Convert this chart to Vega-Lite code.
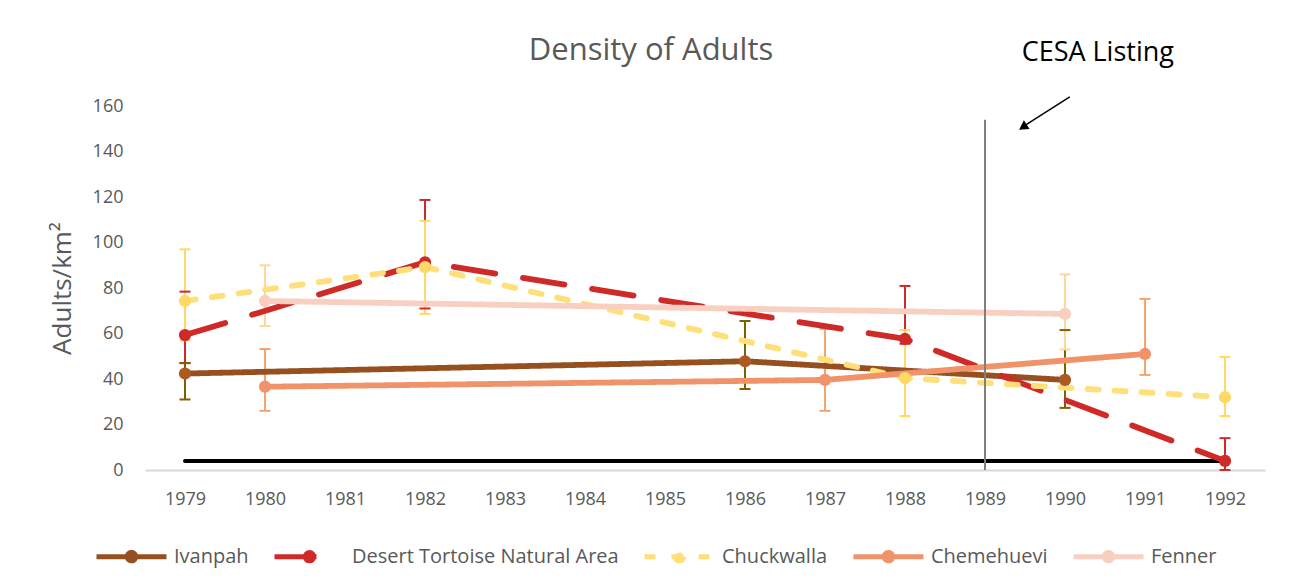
{
  "$schema": "https://vega.github.io/schema/vega-lite/v6.json",
  "width": 1120,
  "height": 364,
  "autosize": {"type": "none"},
  "padding": {"left": 145, "top": 106, "right": 27, "bottom": 118},
  "background": "white",
  "config": {
    "font": "Open Sans",
    "view": {"stroke": null},
    "axis": {"grid": false, "ticks": false, "labelColor": "#595959", "labelFontSize": 18, "titleColor": "#595959", "titleFontWeight": "normal"}
  },
  "title": {"text": "Density of Adults", "fontSize": 31, "fontWeight": "normal", "color": "#595959", "anchor": "middle", "frame": "group", "dx": -54, "offset": -28},
  "datasets": {
    "series": [
      {"site": "Ivanpah", "year": 1979, "value": 42.4, "lo": 31.0, "hi": 47.0},
      {"site": "Ivanpah", "year": 1986, "value": 47.8, "lo": 35.6, "hi": 65.5},
      {"site": "Ivanpah", "year": 1990, "value": 39.6, "lo": 27.3, "hi": 61.5},
      {"site": "Desert Tortoise Natural Area", "year": 1979, "value": 59.3, "lo": 47.0, "hi": 78.4},
      {"site": "Desert Tortoise Natural Area", "year": 1982, "value": 91.3, "lo": 71.0, "hi": 118.7},
      {"site": "Desert Tortoise Natural Area", "year": 1988, "value": 57.6, "lo": 55.5, "hi": 80.9},
      {"site": "Desert Tortoise Natural Area", "year": 1992, "value": 4.0, "lo": 0.0, "hi": 14.0},
      {"site": "Chuckwalla", "year": 1979, "value": 74.3, "lo": 57.0, "hi": 97.0},
      {"site": "Chuckwalla", "year": 1982, "value": 89.2, "lo": 68.6, "hi": 109.5},
      {"site": "Chuckwalla", "year": 1988, "value": 40.4, "lo": 23.7, "hi": 61.5},
      {"site": "Chuckwalla", "year": 1992, "value": 32.0, "lo": 23.7, "hi": 49.7},
      {"site": "Chemehuevi", "year": 1980, "value": 36.6, "lo": 26.0, "hi": 53.2},
      {"site": "Chemehuevi", "year": 1987, "value": 39.6, "lo": 26.0, "hi": 62.0},
      {"site": "Chemehuevi", "year": 1991, "value": 51.0, "lo": 41.8, "hi": 75.2},
      {"site": "Fenner", "year": 1980, "value": 74.3, "lo": 63.3, "hi": 90.0},
      {"site": "Fenner", "year": 1990, "value": 68.6, "lo": 53.0, "hi": 86.0}
    ],
    "baseline": [
      {"year": 1979, "value": 4},
      {"year": 1992, "value": 4}
    ],
    "notes": [
      {"label": "CESA Listing", "year": 1989}
    ]
  },
  "layer": [
    {
      "data": {"name": "baseline"},
      "mark": {"type": "line", "color": "black", "strokeWidth": 4, "strokeCap": "round"},
      "encoding": {
        "x": {"field": "year", "type": "quantitative", "scale": {"domain": [1978.5, 1992.5], "nice": false, "zero": false},
              "axis": {"orient": "bottom", "title": null, "values": [1979, 1980, 1981, 1982, 1983, 1984, 1985, 1986, 1987, 1988, 1989, 1990, 1991, 1992], "format": "d", "domainColor": "#d9d9d9", "domainWidth": 2, "labelPadding": 20}},
        "y": {"field": "value", "type": "quantitative", "scale": {"domain": [0, 160], "nice": false},
              "axis": {"orient": "left", "title": "Adults/km²", "titleFontSize": 26, "titlePadding": 17, "values": [0, 20, 40, 60, 80, 100, 120, 140, 160], "domain": false, "labelPadding": 22}}
      }
    },
    {
      "data": {"name": "series"},
      "mark": {"type": "rule", "strokeWidth": 2},
      "encoding": {
        "x": {"field": "year", "type": "quantitative", "axis": {"orient": "bottom", "title": null, "values": [1979, 1980, 1981, 1982, 1983, 1984, 1985, 1986, 1987, 1988, 1989, 1990, 1991, 1992], "format": "d", "domainColor": "#d9d9d9", "domainWidth": 2, "labelPadding": 20}},
        "y": {"field": "lo", "type": "quantitative", "axis": {"orient": "left", "title": "Adults/km²", "titleFontSize": 26, "titlePadding": 17, "values": [0, 20, 40, 60, 80, 100, 120, 140, 160], "domain": false, "labelPadding": 22}},
        "y2": {"field": "hi"},
        "stroke": {"field": "site", "type": "nominal", "legend": null,
                  "scale": {"domain": ["Fenner", "Chemehuevi", "Chuckwalla", "Desert Tortoise Natural Area", "Ivanpah"], "range": ["#ffd79b", "#f4a46c", "#ffd966", "#cc2b2b", "#7f6000"]}}
      }
    },
    {
      "data": {"name": "series"},
      "mark": {"type": "rule", "strokeWidth": 2, "xOffset": -5.5, "x2Offset": 5.5},
      "encoding": {
        "x": {"field": "year", "type": "quantitative", "axis": {"orient": "bottom", "title": null, "values": [1979, 1980, 1981, 1982, 1983, 1984, 1985, 1986, 1987, 1988, 1989, 1990, 1991, 1992], "format": "d", "domainColor": "#d9d9d9", "domainWidth": 2, "labelPadding": 20}},
        "x2": {"field": "year"},
        "y": {"field": "lo", "type": "quantitative", "axis": {"orient": "left", "title": "Adults/km²", "titleFontSize": 26, "titlePadding": 17, "values": [0, 20, 40, 60, 80, 100, 120, 140, 160], "domain": false, "labelPadding": 22}},
        "stroke": {"field": "site", "type": "nominal", "legend": null}
      }
    },
    {
      "data": {"name": "series"},
      "mark": {"type": "rule", "strokeWidth": 2, "xOffset": -5.5, "x2Offset": 5.5},
      "encoding": {
        "x": {"field": "year", "type": "quantitative", "axis": {"orient": "bottom", "title": null, "values": [1979, 1980, 1981, 1982, 1983, 1984, 1985, 1986, 1987, 1988, 1989, 1990, 1991, 1992], "format": "d", "domainColor": "#d9d9d9", "domainWidth": 2, "labelPadding": 20}},
        "x2": {"field": "year"},
        "y": {"field": "hi", "type": "quantitative", "axis": {"orient": "left", "title": "Adults/km²", "titleFontSize": 26, "titlePadding": 17, "values": [0, 20, 40, 60, 80, 100, 120, 140, 160], "domain": false, "labelPadding": 22}},
        "stroke": {"field": "site", "type": "nominal", "legend": null}
      }
    },
    {
      "data": {"name": "series"},
      "mark": {"type": "line", "strokeWidth": 5.8, "strokeCap": "round", "strokeJoin": "round"},
      "encoding": {
        "x": {"field": "year", "type": "quantitative", "axis": {"orient": "bottom", "title": null, "values": [1979, 1980, 1981, 1982, 1983, 1984, 1985, 1986, 1987, 1988, 1989, 1990, 1991, 1992], "format": "d", "domainColor": "#d9d9d9", "domainWidth": 2, "labelPadding": 20}},
        "y": {"field": "value", "type": "quantitative", "axis": {"orient": "left", "title": "Adults/km²", "titleFontSize": 26, "titlePadding": 17, "values": [0, 20, 40, 60, 80, 100, 120, 140, 160], "domain": false, "labelPadding": 22}},
        "color": {"field": "site", "type": "nominal", "title": null,
                  "scale": {"domain": ["Ivanpah", "Desert Tortoise Natural Area", "Chuckwalla", "Chemehuevi", "Fenner"], "range": ["#96501f", "#cf2a27", "#ffdf7a", "#f0936a", "#f8cfc0"]},
                  "legend": {"orient": "none", "direction": "horizontal", "columns": 5, "legendX": -51, "legendY": 413,
                             "symbolType": "M-1,0H1M0.12,0A0.12,0.12,0,1,1,-0.12,0A0.12,0.12,0,1,1,0.12,0",
                             "symbolSize": 4900, "symbolStrokeWidth": 5, "labelFontSize": 20, "labelColor": "#595959", "labelOffset": 5, "columnPadding": 15, "labelLimit": 400,
                             "encode": {"symbols": {"update": {"fill": {"scale": "color", "field": "value"}}}}}},
        "strokeDash": {"field": "site", "type": "nominal", "title": null,
                       "scale": {"domain": ["Ivanpah", "Desert Tortoise Natural Area", "Chuckwalla", "Chemehuevi", "Fenner"], "range": [[1, 0], [42, 28], [11, 16], [1, 0], [1, 0]]}}
      }
    },
    {
      "data": {"name": "series"},
      "mark": {"type": "point", "filled": true, "size": 150, "opacity": 1, "strokeWidth": 0},
      "encoding": {
        "x": {"field": "year", "type": "quantitative", "axis": {"orient": "bottom", "title": null, "values": [1979, 1980, 1981, 1982, 1983, 1984, 1985, 1986, 1987, 1988, 1989, 1990, 1991, 1992], "format": "d", "domainColor": "#d9d9d9", "domainWidth": 2, "labelPadding": 20}},
        "y": {"field": "value", "type": "quantitative", "axis": {"orient": "left", "title": "Adults/km²", "titleFontSize": 26, "titlePadding": 17, "values": [0, 20, 40, 60, 80, 100, 120, 140, 160], "domain": false, "labelPadding": 22}},
        "fill": {"field": "site", "type": "nominal", "legend": null,
                  "scale": {"domain": ["Fenner", "Chemehuevi", "Chuckwalla", "Desert Tortoise Natural Area", "Ivanpah"], "range": ["#f8cfc0", "#f0936a", "#ffd966", "#cf2a27", "#ad5a21"]}}
      }
    },
    {
      "data": {"name": "notes"},
      "mark": {"type": "rule", "color": "#7f7f7f", "strokeWidth": 2},
      "encoding": {
        "x": {"field": "year", "type": "quantitative", "axis": {"orient": "bottom", "title": null, "values": [1979, 1980, 1981, 1982, 1983, 1984, 1985, 1986, 1987, 1988, 1989, 1990, 1991, 1992], "format": "d", "domainColor": "#d9d9d9", "domainWidth": 2, "labelPadding": 20}},
        "y": {"datum": 0, "type": "quantitative", "axis": {"orient": "left", "title": "Adults/km²", "titleFontSize": 26, "titlePadding": 17, "values": [0, 20, 40, 60, 80, 100, 120, 140, 160], "domain": false, "labelPadding": 22}},
        "y2": {"datum": 154}
      }
    },
    {
      "data": {"name": "notes"},
      "mark": {"type": "rule", "color": "black", "strokeWidth": 1.5},
      "encoding": {
        "x": {"datum": 1990.06, "type": "quantitative", "axis": {"orient": "bottom", "title": null, "values": [1979, 1980, 1981, 1982, 1983, 1984, 1985, 1986, 1987, 1988, 1989, 1990, 1991, 1992], "format": "d", "domainColor": "#d9d9d9", "domainWidth": 2, "labelPadding": 20}},
        "y": {"datum": 164, "type": "quantitative", "axis": {"orient": "left", "title": "Adults/km²", "titleFontSize": 26, "titlePadding": 17, "values": [0, 20, 40, 60, 80, 100, 120, 140, 160], "domain": false, "labelPadding": 22}},
        "x2": {"datum": 1989.5}, "y2": {"datum": 151.5}
      }
    },
    {
      "data": {"name": "notes"},
      "mark": {"type": "point", "shape": "triangle-up", "filled": true, "color": "black", "size": 110, "angle": 237, "opacity": 1},
      "encoding": {
        "x": {"datum": 1989.474, "type": "quantitative", "axis": {"orient": "bottom", "title": null, "values": [1979, 1980, 1981, 1982, 1983, 1984, 1985, 1986, 1987, 1988, 1989, 1990, 1991, 1992], "format": "d", "domainColor": "#d9d9d9", "domainWidth": 2, "labelPadding": 20}},
        "y": {"datum": 150.7, "type": "quantitative", "axis": {"orient": "left", "title": "Adults/km²", "titleFontSize": 26, "titlePadding": 17, "values": [0, 20, 40, 60, 80, 100, 120, 140, 160], "domain": false, "labelPadding": 22}}
      }
    },
    {
      "data": {"name": "notes"},
      "mark": {"type": "text", "fontSize": 27, "color": "black", "align": "center", "baseline": "middle"},
      "encoding": {
        "text": {"field": "label"},
        "x": {"datum": 1990.41, "type": "quantitative", "axis": {"orient": "bottom", "title": null, "values": [1979, 1980, 1981, 1982, 1983, 1984, 1985, 1986, 1987, 1988, 1989, 1990, 1991, 1992], "format": "d", "domainColor": "#d9d9d9", "domainWidth": 2, "labelPadding": 20}},
        "y": {"datum": 183.3, "type": "quantitative", "axis": {"orient": "left", "title": "Adults/km²", "titleFontSize": 26, "titlePadding": 17, "values": [0, 20, 40, 60, 80, 100, 120, 140, 160], "domain": false, "labelPadding": 22}}
      }
    }
  ]
}
